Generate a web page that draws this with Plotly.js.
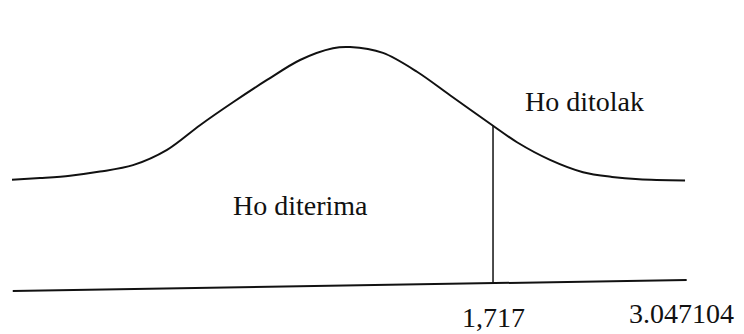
<!DOCTYPE html>
<html>
<head>
<meta charset="utf-8">
<script src="https://cdn.plot.ly/plotly-3.0.1.min.js"></script>
<style>
  html, body { margin: 0; padding: 0; background: #fff; }
  #plot { width: 744px; height: 334px; }
</style>
</head>
<body>
<div id="plot"></div>
<script>
// curve: z position and height above the base line
let curve_x = [-3.979, -3.647, -3.292, -2.937, -2.546, -2.143, -1.753, -1.362, -0.959, -0.568,
  -0.178, 0.024, 0.414, 0.817, 1.208, 1.717, 2.001, 2.392, 2.783, 3.126,
  3.446, 3.991];
let curve_y = [0.179, 0.182, 0.186, 0.193, 0.204, 0.230, 0.272, 0.311, 0.349, 0.383,
  0.403, 0.405, 0.395, 0.363, 0.323, 0.271, 0.243, 0.213, 0.192, 0.184,
  0.180, 0.178];

let base_x = [-3.97, 4.01];
let base_y = [-0.010, 0.0085];

let critical_value = 1.717;
let critical_top = 0.271;
let critical_bottom = 0.004;

let region_labels = ["Ho ditolak", "Ho diterima"];
let region_x = [2.806, -0.557];
let region_y = [0.313, 0.136];

let value_labels = ["1,717", "3.047104"];
let value_x = [1.717, 3.943];
let value_y = [-0.0545, -0.0477];

let line_color = "#111111";
let font = { family: "Liberation Serif, Times New Roman, serif", size: 28, color: "#111111" };

let data = [
  {
    x: curve_x,
    y: curve_y,
    mode: "lines",
    type: "scatter",
    line: { color: line_color, width: 2, shape: "spline", smoothing: 0.9 },
    hoverinfo: "skip",
  },
  {
    x: base_x,
    y: base_y,
    mode: "lines",
    type: "scatter",
    line: { color: line_color, width: 2 },
    hoverinfo: "skip",
  },
  {
    x: [critical_value, critical_value],
    y: [critical_bottom, critical_top],
    mode: "lines",
    type: "scatter",
    line: { color: line_color, width: 1.5 },
    hoverinfo: "skip",
  },
];

let annotations = [];
for (let i = 0; i < region_labels.length; i++) {
  annotations.push({
    x: region_x[i], y: region_y[i], text: region_labels[i],
    showarrow: false, xanchor: "center", yanchor: "middle", font: font,
  });
}
for (let i = 0; i < value_labels.length; i++) {
  annotations.push({
    x: value_x[i], y: value_y[i], text: value_labels[i],
    showarrow: false, xanchor: "center", yanchor: "middle", font: font,
  });
}

let hidden_axis = {
  showgrid: false, zeroline: false, showline: false,
  showticklabels: false, ticks: "", fixedrange: true,
};

let layout = {
  width: 744,
  height: 334,
  margin: { l: 0, r: 0, t: 0, b: 0 },
  paper_bgcolor: "#ffffff",
  plot_bgcolor: "#ffffff",
  showlegend: false,
  xaxis: Object.assign({ range: [-4.121, 4.689] }, hidden_axis),
  yaxis: Object.assign({ range: [-0.0834, 0.4851] }, hidden_axis),
  annotations: annotations,
};

Plotly.newPlot("plot", data, layout, { staticPlot: true });
</script>
</body>
</html>
